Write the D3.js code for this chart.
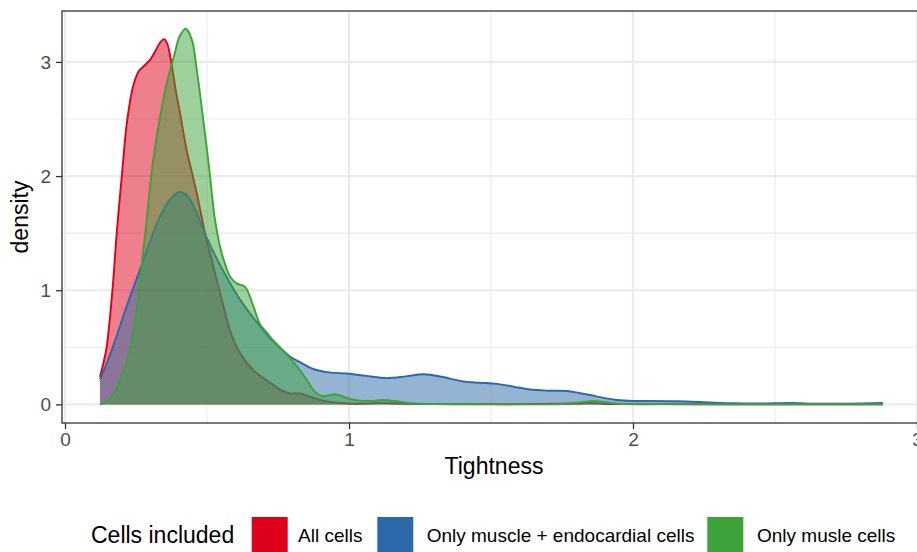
<!DOCTYPE html>
<html>
<head>
<meta charset="utf-8">
<script src="https://cdn.jsdelivr.net/npm/d3@7"></script>
<style>
  html, body { margin: 0; padding: 0; background: #fff; }
  svg { display: block; font-family: "Liberation Sans", Arial, Helvetica, sans-serif; }
</style>
</head>
<body>
<svg id="chart" width="917" height="552"></svg>
<script>
// Kernel density estimates of "Tightness" per cell subset (x, density)
const allCells = [
  [0.123,0.24],[0.135,0.36],[0.147,0.51],[0.168,1.03],[0.182,1.50],[0.200,2.00],[0.219,2.49],
  [0.240,2.79],[0.260,2.92],[0.276,2.96],[0.300,3.02],[0.317,3.09],[0.335,3.17],[0.349,3.20],
  [0.360,3.16],[0.368,3.08],[0.376,2.97],[0.390,2.75],[0.405,2.55],[0.428,2.23],[0.446,2.04],
  [0.464,1.85],[0.493,1.50],[0.522,1.21],[0.552,0.92],[0.581,0.65],[0.616,0.45],[0.663,0.30],
  [0.722,0.19],[0.757,0.13],[0.792,0.097],[0.827,0.095],[0.863,0.068],[0.898,0.04],[0.940,0.02],
  [0.968,0.012],[1.03,0.006],[1.10,0.012],[1.15,0.010],[1.25,0.003],[1.40,0.002],[1.60,0.002],
  [1.80,0.008],[1.85,0.012],[1.90,0.006],[2.00,0.002],[2.40,0.001],[2.88,0.001]
];
const muscleEndo = [
  [0.123,0.22],[0.147,0.36],[0.175,0.55],[0.205,0.77],[0.230,0.95],[0.264,1.18],[0.295,1.40],
  [0.323,1.58],[0.350,1.72],[0.375,1.81],[0.405,1.86],[0.430,1.83],[0.452,1.74],[0.499,1.46],
  [0.557,1.17],[0.616,0.92],[0.675,0.72],[0.722,0.58],[0.760,0.49],[0.792,0.42],[0.835,0.36],
  [0.874,0.31],[0.930,0.28],[0.992,0.27],[1.06,0.25],[1.133,0.23],[1.20,0.245],[1.262,0.264],
  [1.33,0.24],[1.403,0.20],[1.46,0.19],[1.52,0.18],[1.58,0.155],[1.637,0.13],[1.70,0.12],
  [1.767,0.117],[1.81,0.10],[1.849,0.082],[1.90,0.055],[1.943,0.039],[2.00,0.030],[2.05,0.030],
  [2.15,0.028],[2.25,0.020],[2.35,0.010],[2.45,0.008],[2.55,0.012],[2.65,0.006],[2.75,0.006],
  [2.88,0.012]
];
const muscleOnly = [
  [0.123,0.00],[0.140,0.015],[0.153,0.04],[0.175,0.11],[0.194,0.21],[0.217,0.37],[0.235,0.56],
  [0.250,0.78],[0.264,1.10],[0.282,1.48],[0.295,1.80],[0.306,2.05],[0.317,2.25],[0.335,2.52],
  [0.356,2.79],[0.387,3.08],[0.403,3.22],[0.425,3.29],[0.446,3.20],[0.464,2.93],[0.487,2.49],
  [0.508,2.06],[0.528,1.62],[0.549,1.35],[0.565,1.22],[0.581,1.12],[0.604,1.06],[0.634,1.03],
  [0.663,0.86],[0.687,0.70],[0.710,0.63],[0.733,0.56],[0.780,0.44],[0.827,0.30],[0.855,0.20],
  [0.880,0.11],[0.905,0.075],[0.930,0.080],[0.955,0.088],[0.990,0.060],[1.03,0.035],[1.08,0.030],
  [1.12,0.038],[1.16,0.030],[1.215,0.010],[1.30,0.003],[1.50,0.002],[1.75,0.003],[1.82,0.020],
  [1.86,0.030],[1.90,0.020],[1.95,0.005],[2.10,0.002],[2.50,0.001],[2.88,0.001]
];

const groupNames = ["All cells", "Only muscle + endocardial cells", "Only musle cells"];
const groupColors = ["#DE001A", "#2C69A8", "#3DA23A"];
const groupData = [allCells, muscleEndo, muscleOnly];

const xTicks = [0, 1, 2, 3];
const xMinor = [0.5, 1.5, 2.5];
const yTicks = [0, 1, 2, 3];
const yMinor = [0.5, 1.5, 2.5];

const xTitle = "Tightness";
const yTitle = "density";
const legendTitle = "Cells included";

// Panel geometry and scales
const panel = { left: 62, top: 11, right: 926, bottom: 423 };
const x = d3.scaleLinear().domain([-0.0106, 3.0317]).range([panel.left, panel.right]);
const y = d3.scaleLinear().domain([-0.163, 3.446]).range([panel.bottom, panel.top]);

const svg = d3.select("#chart");

svg.append("defs").append("clipPath").attr("id", "panelClip")
  .append("rect")
  .attr("x", panel.left).attr("y", panel.top)
  .attr("width", panel.right - panel.left).attr("height", panel.bottom - panel.top);

// Grid
const grid = svg.append("g").attr("clip-path", "url(#panelClip)");
grid.selectAll("line.xminor").data(xMinor).join("line")
  .attr("x1", d => x(d)).attr("x2", d => x(d))
  .attr("y1", panel.top).attr("y2", panel.bottom)
  .attr("stroke", "#EBEBEB").attr("stroke-width", 1.1);
grid.selectAll("line.yminor").data(yMinor).join("line")
  .attr("y1", d => y(d)).attr("y2", d => y(d))
  .attr("x1", panel.left).attr("x2", panel.right)
  .attr("stroke", "#EBEBEB").attr("stroke-width", 1.1);
grid.selectAll("line.xmajor").data(xTicks).join("line")
  .attr("x1", d => x(d)).attr("x2", d => x(d))
  .attr("y1", panel.top).attr("y2", panel.bottom)
  .attr("stroke", "#EBEBEB").attr("stroke-width", 2.2);
grid.selectAll("line.ymajor").data(yTicks).join("line")
  .attr("y1", d => y(d)).attr("y2", d => y(d))
  .attr("x1", panel.left).attr("x2", panel.right)
  .attr("stroke", "#EBEBEB").attr("stroke-width", 2.2);

// Density areas
const area = d3.area()
  .x(d => x(d[0])).y0(y(0)).y1(d => y(d[1]))
  .curve(d3.curveCatmullRom.alpha(0.5));
const line = d3.line()
  .x(d => x(d[0])).y(d => y(d[1]))
  .curve(d3.curveCatmullRom.alpha(0.5));

const marks = svg.append("g").attr("clip-path", "url(#panelClip)");
groupData.forEach((data, i) => {
  const g = marks.append("g");
  g.append("path").datum(data)
    .attr("d", area)
    .attr("fill", groupColors[i]).attr("fill-opacity", 0.5);
  g.append("path").datum(data)
    .attr("d", line)
    .attr("fill", "none").attr("stroke", groupColors[i])
    .attr("stroke-width", 1.9).attr("stroke-linejoin", "round");
});

// Panel border
svg.append("rect")
  .attr("x", panel.left).attr("y", panel.top)
  .attr("width", panel.right - panel.left).attr("height", panel.bottom - panel.top)
  .attr("fill", "none").attr("stroke", "#333333").attr("stroke-width", 1.3);

// Axes
const xAxis = svg.append("g")
  .attr("transform", `translate(0,${panel.bottom})`)
  .call(d3.axisBottom(x).tickValues(xTicks).tickFormat(d3.format("d")).tickSize(6).tickPadding(4));
const yAxis = svg.append("g")
  .attr("transform", `translate(${panel.left},0)`)
  .call(d3.axisLeft(y).tickValues(yTicks).tickFormat(d3.format("d")).tickSize(6).tickPadding(5));
[xAxis, yAxis].forEach(a => {
  a.select(".domain").remove();
  a.selectAll(".tick line").attr("stroke", "#333333").attr("stroke-width", 1.3);
  a.selectAll(".tick text")
    .attr("fill", "#4D4D4D")
    .style("font-size", "19px")
    .style("font-family", "'Liberation Sans', Arial, sans-serif");
});

// Axis titles
svg.append("text")
  .attr("x", (panel.left + panel.right) / 2).attr("y", 474)
  .attr("text-anchor", "middle")
  .style("font-size", "23px").attr("fill", "#000")
  .text(xTitle);
svg.append("text")
  .attr("transform", `translate(28,${(panel.top + panel.bottom) / 2}) rotate(-90)`)
  .attr("text-anchor", "middle")
  .style("font-size", "23px").attr("fill", "#000")
  .text(yTitle);

// Legend
const legend = svg.append("g");
legend.append("text")
  .attr("x", 91).attr("y", 543)
  .style("font-size", "23px").attr("fill", "#000")
  .text(legendTitle);
const keyX = [251.7, 377.3, 707.3];
const labelX = [298, 426.7, 757];
groupNames.forEach((name, i) => {
  legend.append("rect")
    .attr("x", keyX[i]).attr("y", 517)
    .attr("width", 36).attr("height", 36)
    .attr("fill", groupColors[i]);
  legend.append("text")
    .attr("x", labelX[i]).attr("y", 542)
    .style("font-size", "19px").attr("fill", "#000")
    .text(name);
});
</script>
</body>
</html>
